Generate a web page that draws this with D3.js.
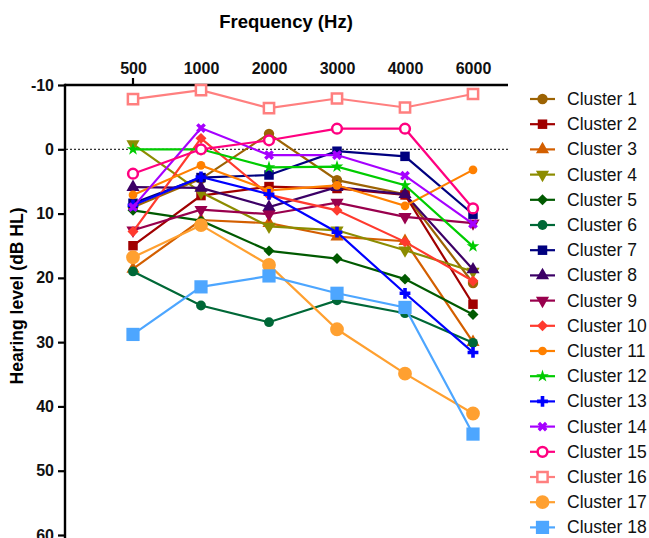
<!DOCTYPE html>
<html lang="en">
<head>
  <meta charset="UTF-8">
  <script src="https://d3js.org/d3.v7.min.js"></script>
  <title>Hearing level by cluster</title>
  <style>
    body { margin: 0; background: #fff; }
    text { font-family: "Liberation Sans", Arial, sans-serif; }
    .axis-label { font-weight: bold; }
    .legend text { font-size: 17.5px; fill: #111; }
  </style>
</head>
<body>
  <svg width="649" height="538"></svg>

  <script>
    const width = 649, height = 538;

    // frequencies (Hz) and tick labels
    const frequencies = ["500", "1000", "2000", "3000", "4000", "6000"];
    const yTicks = [-10, 0, 10, 20, 30, 40, 50, 60];

    const clusterNames = d3.range(1, 19).map(i => "Cluster " + i);

    // hearing levels (dB HL), one array per cluster, in frequency order
    const cluster1 = [9.0, 4.6, -2.4, 4.8, 7.0, 20.8];
    const cluster2 = [15.0, 7.2, 5.8, 6.1, 7.1, 24.1];
    const cluster3 = [18.6, 11.0, 11.5, 13.6, 14.3, 30.0];
    const cluster4 = [-0.8, 6.7, 12.0, 12.6, 15.7, 19.0];
    const cluster5 = [9.5, 11.1, 15.8, 17.0, 20.2, 25.7];
    const cluster6 = [19.0, 24.3, 26.9, 23.5, 25.5, 30.1];
    const cluster7 = [8.4, 4.4, 4.0, 0.3, 1.1, 10.1];
    const cluster8 = [5.9, 6.0, 9.0, 5.9, 7.0, 18.7];
    const cluster9 = [12.6, 9.4, 10.1, 8.3, 10.5, 11.5];
    const cluster10 = [12.8, -1.7, 7.1, 9.5, 14.4, 20.5];
    const cluster11 = [7.1, 2.5, 6.4, 5.6, 8.8, 3.2];
    const cluster12 = [0.0, 0.0, 2.8, 2.7, 5.6, 15.1];
    const cluster13 = [8.7, 4.3, 7.0, 12.9, 22.4, 31.6];
    const cluster14 = [9.0, -3.3, 0.9, 0.9, 4.1, 11.6];
    const cluster15 = [3.8, 0.0, -1.4, -3.2, -3.2, 9.2];
    const cluster16 = [-7.8, -9.2, -6.4, -7.9, -6.5, -8.6];
    const cluster17 = [16.8, 11.8, 18.0, 28.0, 34.9, 41.1];
    const cluster18 = [28.8, 21.4, 19.7, 22.4, 24.6, 44.3];

    const values = [cluster1, cluster2, cluster3, cluster4, cluster5, cluster6,
      cluster7, cluster8, cluster9, cluster10, cluster11, cluster12,
      cluster13, cluster14, cluster15, cluster16, cluster17, cluster18];

    const colors = ["#9c6304", "#a00000", "#d35f00", "#8c8c00", "#005a00", "#006837",
      "#00007f", "#3c0066", "#99004d", "#ff3a2e", "#ff8000", "#00cc00",
      "#0000ff", "#a600ff", "#ff0080", "#ff7f7f", "#ffa030", "#4da6ff"];

    // marker style per cluster
    const markers = [
      { type: d3.symbolCircle, size: 85 },
      { type: d3.symbolSquare, size: 90 },
      { type: d3.symbolTriangle, size: 75 },
      { type: d3.symbolTriangle, size: 75, rotate: 180 },
      { type: d3.symbolSquare, size: 60, rotate: 45 },
      { type: d3.symbolCircle, size: 75 },
      { type: d3.symbolSquare, size: 90 },
      { type: d3.symbolTriangle, size: 75 },
      { type: d3.symbolTriangle, size: 75, rotate: 180 },
      { type: d3.symbolSquare, size: 60, rotate: 45 },
      { type: d3.symbolCircle, size: 60 },
      { type: d3.symbolStar, size: 50 },
      { type: d3.symbolCross, size: 65 },
      { type: d3.symbolCross, size: 60, rotate: 45 },
      { type: d3.symbolCircle, size: 75, open: true },
      { type: d3.symbolSquare, size: 105, open: true },
      { type: d3.symbolCircle, size: 150 },
      { type: d3.symbolSquare, size: 175 }
    ];

    const svg = d3.select("svg");

    const x = d3.scalePoint().domain(frequencies).range([133, 473]);
    const y = d3.scaleLinear().domain([-10, 60]).range([85, 535]);

    // titles
    svg.append("text")
      .attr("class", "axis-label")
      .attr("x", 286).attr("y", 28)
      .attr("text-anchor", "middle")
      .style("font-size", "18.5px")
      .text("Frequency (Hz)");

    svg.append("text")
      .attr("class", "axis-label")
      .attr("transform", "translate(23,296) rotate(-90)")
      .attr("text-anchor", "middle")
      .style("font-size", "17.5px")
      .text("Hearing level (dB HL)");

    // top axis
    const xAxis = svg.append("g")
      .attr("transform", `translate(0,${y(-10)})`)
      .call(d3.axisTop(x).tickSize(0).tickPadding(11));
    xAxis.select(".domain").remove();
    xAxis.selectAll("text")
      .attr("class", "axis-label")
      .style("font-size", "16px")
      .style("fill", "#111");
    svg.append("line")
      .attr("x1", 65).attr("x2", 508)
      .attr("y1", y(-10)).attr("y2", y(-10))
      .attr("stroke", "#000").attr("stroke-width", 2.4);
    svg.append("line")
      .attr("x1", x("500")).attr("x2", x("500"))
      .attr("y1", y(-10) - 7).attr("y2", y(-10))
      .attr("stroke", "#000").attr("stroke-width", 2.2);

    // left axis
    const yAxis = svg.append("g")
      .attr("transform", "translate(65,0)")
      .call(d3.axisLeft(y).tickValues(yTicks).tickSize(7).tickPadding(4)
        .tickFormat(d => String(d)));
    yAxis.select(".domain").remove();
    yAxis.selectAll(".tick line").attr("stroke", "#000").attr("stroke-width", 2.2);
    yAxis.selectAll("text")
      .attr("class", "axis-label")
      .style("font-size", "16px")
      .style("fill", "#111");
    svg.append("line")
      .attr("x1", 65).attr("x2", 65)
      .attr("y1", y(-10) - 1.2).attr("y2", height)
      .attr("stroke", "#000").attr("stroke-width", 2.4);

    // zero reference
    svg.append("line")
      .attr("x1", 66).attr("x2", 508)
      .attr("y1", y(0)).attr("y2", y(0))
      .attr("stroke", "#000").attr("stroke-width", 1)
      .attr("stroke-dasharray", "2,2");

    const line = d3.line()
      .x((d, i) => x(frequencies[i]))
      .y(d => y(d));

    function drawMarker(g, k, cx, cy) {
      const m = markers[k];
      const p = g.append("path")
        .attr("d", d3.symbol().type(m.type).size(m.size)())
        .attr("transform", `translate(${cx},${cy}) rotate(${m.rotate || 0})`);
      if (m.open) {
        p.attr("fill", "#fff").attr("stroke", colors[k]).attr("stroke-width", 2.5);
      } else {
        p.attr("fill", colors[k]);
      }
    }

    const series = svg.append("g").attr("class", "series");
    values.forEach((vals, k) => {
      const g = series.append("g");
      g.append("path")
        .datum(vals)
        .attr("d", line)
        .attr("fill", "none")
        .attr("stroke", colors[k])
        .attr("stroke-width", 2.2);
      vals.forEach((v, i) => drawMarker(g, k, x(frequencies[i]), y(v)));
    });

    // legend
    const legend = svg.append("g").attr("class", "legend");
    clusterNames.forEach((name, k) => {
      const ly = 99 + k * 25.2;
      const g = legend.append("g");
      g.append("line")
        .attr("x1", 530).attr("x2", 555)
        .attr("y1", ly).attr("y2", ly)
        .attr("stroke", colors[k]).attr("stroke-width", 2.2);
      drawMarker(g, k, 542.5, ly);
      g.append("text")
        .attr("x", 567).attr("y", ly + 6)
        .text(name);
    });
  </script>
</body>
</html>
